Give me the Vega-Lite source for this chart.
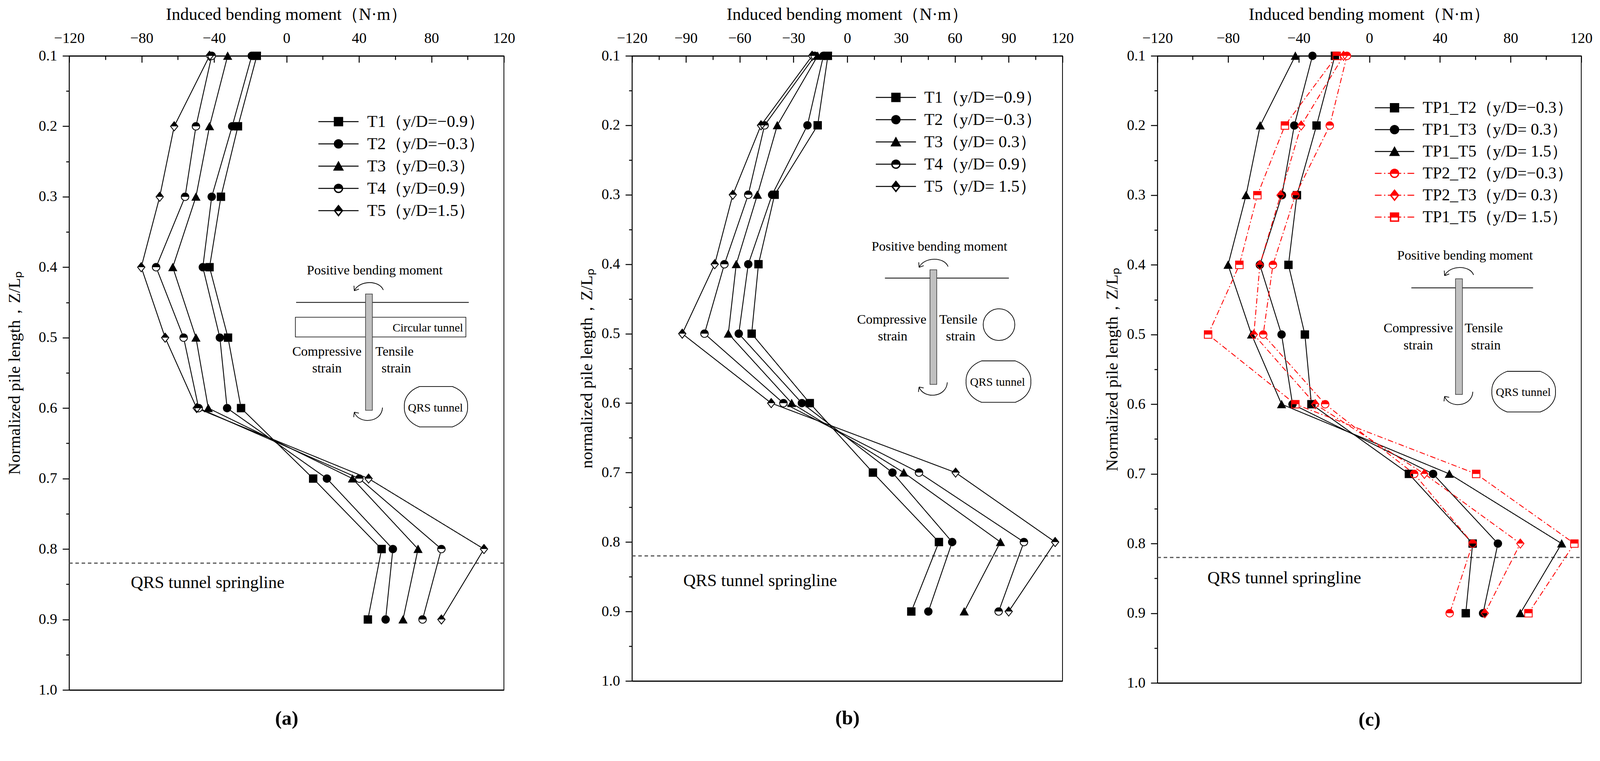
{
  "$schema": "https://vega.github.io/schema/vega-lite/v6.json",
  "background": "white",
  "padding": {"left": 15, "top": 14, "right": 0, "bottom": 0},
  "config": {
    "view": {"stroke": "black", "strokeWidth": 2},
    "axis": {"grid": false, "domainColor": "black", "tickColor": "black", "labelColor": "black", "titleColor": "black", "labelFont": "Liberation Serif", "titleFont": "Liberation Serif", "titleFontWeight": "normal", "labelFontSize": 38, "tickWidth": 2.5, "labelFlush": false, "labelOverlap": false},
    "legend": {"labelFont": "Liberation Serif", "labelColor": "black", "labelLimit": 1000},
    "text": {"font": "Liberation Serif", "color": "black"}
  },
  "datasets": {
    "a": [
      {"series": "T1", "z": 0.1, "m": -16.4}, {"series": "T1", "z": 0.2, "m": -26.8}, {"series": "T1", "z": 0.3, "m": -36.2}, {"series": "T1", "z": 0.4, "m": -42.5}, {"series": "T1", "z": 0.5, "m": -32.3}, {"series": "T1", "z": 0.6, "m": -25.1}, {"series": "T1", "z": 0.7, "m": 14.7}, {"series": "T1", "z": 0.8, "m": 52.5}, {"series": "T1", "z": 0.9, "m": 44.9},
      {"series": "T2", "z": 0.1, "m": -19.2}, {"series": "T2", "z": 0.2, "m": -30.0}, {"series": "T2", "z": 0.3, "m": -41.3}, {"series": "T2", "z": 0.4, "m": -46.2}, {"series": "T2", "z": 0.5, "m": -36.8}, {"series": "T2", "z": 0.6, "m": -32.8}, {"series": "T2", "z": 0.7, "m": 22.3}, {"series": "T2", "z": 0.8, "m": 58.7}, {"series": "T2", "z": 0.9, "m": 54.7},
      {"series": "T3", "z": 0.1, "m": -32.5}, {"series": "T3", "z": 0.2, "m": -42.5}, {"series": "T3", "z": 0.3, "m": -50.0}, {"series": "T3", "z": 0.4, "m": -62.8}, {"series": "T3", "z": 0.5, "m": -50.0}, {"series": "T3", "z": 0.6, "m": -43.2}, {"series": "T3", "z": 0.7, "m": 36.4}, {"series": "T3", "z": 0.8, "m": 72.6}, {"series": "T3", "z": 0.9, "m": 64.3},
      {"series": "T4", "z": 0.1, "m": -41.3}, {"series": "T4", "z": 0.2, "m": -50.0}, {"series": "T4", "z": 0.3, "m": -56.0}, {"series": "T4", "z": 0.4, "m": -72.0}, {"series": "T4", "z": 0.5, "m": -56.8}, {"series": "T4", "z": 0.6, "m": -48.5}, {"series": "T4", "z": 0.7, "m": 40.2}, {"series": "T4", "z": 0.8, "m": 85.5}, {"series": "T4", "z": 0.9, "m": 75.1},
      {"series": "T5", "z": 0.1, "m": -42.5}, {"series": "T5", "z": 0.2, "m": -62.0}, {"series": "T5", "z": 0.3, "m": -70.0}, {"series": "T5", "z": 0.4, "m": -80.2}, {"series": "T5", "z": 0.5, "m": -67.0}, {"series": "T5", "z": 0.6, "m": -49.6}, {"series": "T5", "z": 0.7, "m": 45.3}, {"series": "T5", "z": 0.8, "m": 109.0}, {"series": "T5", "z": 0.9, "m": 85.5}
    ],
    "b": [
      {"series": "T1", "z": 0.1, "m": -10.8}, {"series": "T1", "z": 0.2, "m": -16.5}, {"series": "T1", "z": 0.3, "m": -40.5}, {"series": "T1", "z": 0.4, "m": -49.5}, {"series": "T1", "z": 0.5, "m": -53.3}, {"series": "T1", "z": 0.6, "m": -20.9}, {"series": "T1", "z": 0.7, "m": 14.3}, {"series": "T1", "z": 0.8, "m": 51.1}, {"series": "T1", "z": 0.9, "m": 35.7},
      {"series": "T2", "z": 0.1, "m": -13.3}, {"series": "T2", "z": 0.2, "m": -22.2}, {"series": "T2", "z": 0.3, "m": -41.9}, {"series": "T2", "z": 0.4, "m": -55.2}, {"series": "T2", "z": 0.5, "m": -60.5}, {"series": "T2", "z": 0.6, "m": -25.3}, {"series": "T2", "z": 0.7, "m": 25.2}, {"series": "T2", "z": 0.8, "m": 58.5}, {"series": "T2", "z": 0.9, "m": 45.2},
      {"series": "T3", "z": 0.1, "m": -16.5}, {"series": "T3", "z": 0.2, "m": -39.0}, {"series": "T3", "z": 0.3, "m": -50.1}, {"series": "T3", "z": 0.4, "m": -61.9}, {"series": "T3", "z": 0.5, "m": -66.3}, {"series": "T3", "z": 0.6, "m": -31.0}, {"series": "T3", "z": 0.7, "m": 31.5}, {"series": "T3", "z": 0.8, "m": 85.4}, {"series": "T3", "z": 0.9, "m": 65.2},
      {"series": "T4", "z": 0.1, "m": -18.1}, {"series": "T4", "z": 0.2, "m": -46.1}, {"series": "T4", "z": 0.3, "m": -55.2}, {"series": "T4", "z": 0.4, "m": -68.5}, {"series": "T4", "z": 0.5, "m": -79.6}, {"series": "T4", "z": 0.6, "m": -35.6}, {"series": "T4", "z": 0.7, "m": 40.0}, {"series": "T4", "z": 0.8, "m": 98.5}, {"series": "T4", "z": 0.9, "m": 84.4},
      {"series": "T5", "z": 0.1, "m": -19.6}, {"series": "T5", "z": 0.2, "m": -48.1}, {"series": "T5", "z": 0.3, "m": -63.8}, {"series": "T5", "z": 0.4, "m": -73.9}, {"series": "T5", "z": 0.5, "m": -92.0}, {"series": "T5", "z": 0.6, "m": -42.4}, {"series": "T5", "z": 0.7, "m": 60.4}, {"series": "T5", "z": 0.8, "m": 115.9}, {"series": "T5", "z": 0.9, "m": 90.0}
    ],
    "c": [
      {"series": "TP1_T2", "z": 0.1, "m": -19.5}, {"series": "TP1_T2", "z": 0.2, "m": -29.9}, {"series": "TP1_T2", "z": 0.3, "m": -41.0}, {"series": "TP1_T2", "z": 0.4, "m": -45.8}, {"series": "TP1_T2", "z": 0.5, "m": -36.5}, {"series": "TP1_T2", "z": 0.6, "m": -32.8}, {"series": "TP1_T2", "z": 0.7, "m": 22.4}, {"series": "TP1_T2", "z": 0.8, "m": 58.5}, {"series": "TP1_T2", "z": 0.9, "m": 54.6},
      {"series": "TP1_T3", "z": 0.1, "m": -32.2}, {"series": "TP1_T3", "z": 0.2, "m": -42.5}, {"series": "TP1_T3", "z": 0.3, "m": -49.5}, {"series": "TP1_T3", "z": 0.4, "m": -62.0}, {"series": "TP1_T3", "z": 0.5, "m": -49.7}, {"series": "TP1_T3", "z": 0.6, "m": -43.5}, {"series": "TP1_T3", "z": 0.7, "m": 36.1}, {"series": "TP1_T3", "z": 0.8, "m": 72.8}, {"series": "TP1_T3", "z": 0.9, "m": 64.4},
      {"series": "TP1_T5", "z": 0.1, "m": -41.9}, {"series": "TP1_T5", "z": 0.2, "m": -61.8}, {"series": "TP1_T5", "z": 0.3, "m": -69.8}, {"series": "TP1_T5", "z": 0.4, "m": -80.0}, {"series": "TP1_T5", "z": 0.5, "m": -66.7}, {"series": "TP1_T5", "z": 0.6, "m": -49.7}, {"series": "TP1_T5", "z": 0.7, "m": 45.3}, {"series": "TP1_T5", "z": 0.8, "m": 108.9}, {"series": "TP1_T5", "z": 0.9, "m": 85.5},
      {"series": "TP2_T2", "z": 0.1, "m": -12.7}, {"series": "TP2_T2", "z": 0.2, "m": -22.4}, {"series": "TP2_T2", "z": 0.3, "m": -41.9}, {"series": "TP2_T2", "z": 0.4, "m": -54.6}, {"series": "TP2_T2", "z": 0.5, "m": -60.1}, {"series": "TP2_T2", "z": 0.6, "m": -25.0}, {"series": "TP2_T2", "z": 0.7, "m": 25.4}, {"series": "TP2_T2", "z": 0.8, "m": 58.5}, {"series": "TP2_T2", "z": 0.9, "m": 45.5},
      {"series": "TP2_T3", "z": 0.1, "m": -14.6}, {"series": "TP2_T3", "z": 0.2, "m": -38.6}, {"series": "TP2_T3", "z": 0.3, "m": -50.3}, {"series": "TP2_T3", "z": 0.4, "m": -62.0}, {"series": "TP2_T3", "z": 0.5, "m": -65.4}, {"series": "TP2_T3", "z": 0.6, "m": -30.6}, {"series": "TP2_T3", "z": 0.7, "m": 31.2}, {"series": "TP2_T3", "z": 0.8, "m": 85.5}, {"series": "TP2_T3", "z": 0.9, "m": 65.4},
      {"series": "TP2_T5", "z": 0.1, "m": -18.5}, {"series": "TP2_T5", "z": 0.2, "m": -47.8}, {"series": "TP2_T5", "z": 0.3, "m": -63.4}, {"series": "TP2_T5", "z": 0.4, "m": -73.6}, {"series": "TP2_T5", "z": 0.5, "m": -91.3}, {"series": "TP2_T5", "z": 0.6, "m": -41.9}, {"series": "TP2_T5", "z": 0.7, "m": 60.5}, {"series": "TP2_T5", "z": 0.8, "m": 116.1}, {"series": "TP2_T5", "z": 0.9, "m": 90.1}
    ],
    "annoA": [
      {"kind": "springline", "m": -120, "m2": 120, "z": 0.82},
      {"kind": "spring", "m": -86, "z": 0.848, "label": "QRS tunnel springline"},
      {"kind": "note", "m": 48.7, "z": 0.405, "label": "Positive bending moment"},
      {"kind": "note", "m": 22.3, "z": 0.52, "label": "Compressive"},
      {"kind": "note", "m": 22.3, "z": 0.544, "label": "strain"},
      {"kind": "note", "m": 59.6, "z": 0.52, "label": "Tensile"},
      {"kind": "note", "m": 60.6, "z": 0.544, "label": "strain"},
      {"kind": "small", "m": 82.2, "z": 0.6, "label": "QRS tunnel"},
      {"kind": "smallr", "m": 97.5, "z": 0.486, "label": "Circular tunnel"},
      {"kind": "box", "m": 4.9, "m2": 99, "z": 0.471, "z2": 0.499},
      {"kind": "ground", "m": 5.3, "m2": 100.6, "z": 0.45},
      {"kind": "pile", "m": 43.6, "m2": 47.4, "z": 0.438, "z2": 0.603},
      {"kind": "arrowtop", "m": 44.9, "z": 0.428},
      {"kind": "arrowbottom", "m": 44.9, "z": 0.608},
      {"kind": "tunnel", "m": 82.5, "z": 0.598}
    ],
    "annoB": [
      {"kind": "springline", "m": -120, "m2": 120, "z": 0.82},
      {"kind": "spring", "m": -91.4, "z": 0.856, "label": "QRS tunnel springline"},
      {"kind": "note", "m": 51.4, "z": 0.375, "label": "Positive bending moment"},
      {"kind": "note", "m": 24.8, "z": 0.48, "label": "Compressive"},
      {"kind": "note", "m": 25.3, "z": 0.504, "label": "strain"},
      {"kind": "note", "m": 61.9, "z": 0.48, "label": "Tensile"},
      {"kind": "note", "m": 63.2, "z": 0.504, "label": "strain"},
      {"kind": "small", "m": 83.8, "z": 0.57, "label": "QRS tunnel"},
      {"kind": "ground", "m": 21, "m2": 90.1, "z": 0.42},
      {"kind": "pile", "m": 46.1, "m2": 49.9, "z": 0.408, "z2": 0.573},
      {"kind": "arrowtop", "m": 47.6, "z": 0.399},
      {"kind": "arrowbottom", "m": 47.6, "z": 0.579},
      {"kind": "tunnel", "m": 84.3, "z": 0.569},
      {"kind": "circle", "m": 84.6, "z": 0.487}
    ],
    "annoC": [
      {"kind": "springline", "m": -120, "m2": 120, "z": 0.82},
      {"kind": "spring", "m": -91.7, "z": 0.85, "label": "QRS tunnel springline"},
      {"kind": "note", "m": 54.2, "z": 0.387, "label": "Positive bending moment"},
      {"kind": "note", "m": 27.7, "z": 0.491, "label": "Compressive"},
      {"kind": "note", "m": 27.7, "z": 0.516, "label": "strain"},
      {"kind": "note", "m": 64.8, "z": 0.491, "label": "Tensile"},
      {"kind": "note", "m": 66, "z": 0.516, "label": "strain"},
      {"kind": "small", "m": 87.2, "z": 0.583, "label": "QRS tunnel"},
      {"kind": "ground", "m": 23.8, "m2": 92.7, "z": 0.433},
      {"kind": "pile", "m": 48.8, "m2": 52.7, "z": 0.42, "z2": 0.586},
      {"kind": "arrowtop", "m": 50.3, "z": 0.41},
      {"kind": "arrowbottom", "m": 50.3, "z": 0.591},
      {"kind": "tunnel", "m": 87.4, "z": 0.582}
    ]
  },
  "bounds": "flush",
  "spacing": 328,
  "hconcat": [
    {
      "width": 1113,
      "height": 1624,
      "data": {"name": "a"},
      "encoding": {
        "x": {"field": "m", "type": "quantitative", "scale": {"domain": [-120, 120], "nice": false, "zero": false}, "axis": null},
        "y": {"field": "z", "type": "quantitative", "scale": {"domain": [0.1, 1], "reverse": true, "nice": false, "zero": false},
          "axis": {"orient": "left", "values": [0.1, 0.15, 0.2, 0.25, 0.3, 0.35, 0.4, 0.45, 0.5, 0.55, 0.6, 0.65, 0.7, 0.75, 0.8, 0.85, 0.9, 0.95, 1.0], "format": ".1f", "labelExpr": "round(datum.value * 100) % 10 === 0 ? datum.label : ''", "tickSize": {"condition": {"test": "round(datum.value * 100) % 10 === 0", "value": 17}, "value": 8}, "domainWidth": 2, "labelPadding": 14, "title": "Normalized pile length，Z/Lₚ", "titleFontSize": 43, "titlePadding": 39}}
      },
      "resolve": {"scale": {"shape": "independent", "fill": "independent", "stroke": "independent", "size": "independent", "strokeDash": "independent"}, "axis": {"x": "independent"}},
      "layer": [
        {
          "data": {"name": "annoA"},
          "transform": [{"filter": "datum.kind === 'springline'"}],
          "mark": {"type": "rule", "color": "#555555", "strokeWidth": 3, "strokeDash": [9, 7]},
          "encoding": {"x2": {"field": "m2"}}
        },
        {
          "mark": {"type": "line", "strokeWidth": 2.2},
          "encoding": {
            "x": {"field": "m", "type": "quantitative", "scale": {"domain": [-120, 120], "nice": false, "zero": false},
              "axis": {"orient": "top", "values": [-120, -100, -80, -60, -40, -20, 0, 20, 40, 60, 80, 100, 120], "labelExpr": "datum.value % 40 === 0 ? datum.label : ''", "tickSize": {"condition": {"test": "datum.value % 40 === 0", "value": -17}, "value": -10}, "domainWidth": 3, "labelPadding": 43, "title": "Induced bending moment（N·m）", "titleFontSize": 44, "titlePadding": 13}},
            "stroke": {"field": "series", "type": "nominal", "scale": {"domain": ["T1", "T2", "T3", "T4", "T5"], "range": ["black", "black", "black", "black", "black"]}, "legend": null},
            "strokeDash": {"field": "series", "type": "nominal", "scale": {"domain": ["T1", "T2", "T3", "T4", "T5"], "range": [[1, 0], [1, 0], [1, 0], [1, 0], [1, 0]]}, "legend": null},
            "order": {"field": "z", "type": "quantitative"}
          }
        },
        {
          "mark": {"type": "point", "filled": true, "fill": "white", "size": 459, "strokeWidth": 0, "opacity": 1},
          "encoding": {
            "shape": {"field": "series", "type": "nominal", "scale": {"domain": ["T1", "T2", "T3", "T4", "T5"], "range": ["M -1 -1 L 1 -1 L 1 1 L -1 1 Z", "circle", "M 0 -1.05 L 1.1 0.95 L -1.1 0.95 Z", "circle", "M 0 -1.25 L 1 0 L 0 1.25 L -1 0 Z"]}, "legend": null}
          }
        },
        {
          "mark": {"type": "point", "filled": true, "size": 459, "strokeWidth": 0, "opacity": 1},
          "encoding": {
            "x": {"field": "m", "type": "quantitative", "scale": {"domain": [-120, 120], "nice": false, "zero": false},
              "axis": {"orient": "bottom", "labels": false, "ticks": false, "domainWidth": 3, "title": "(a)", "titleFontSize": 51, "titleFontWeight": "bold", "titlePadding": 48}},
            "shape": {"field": "series", "type": "nominal", "scale": {"domain": ["T1", "T2", "T3", "T4", "T5"], "range": ["M -1 -1 L 1 -1 L 1 1 L -1 1 Z", "circle", "M 0 -1.05 L 1.1 0.95 L -1.1 0.95 Z", "M -1 0 A 1 1 0 0 1 1 0 Z M 1 0 A 1 1 0 0 1 -1 0 L -0.8 0 A 0.8 0.8 0 0 0 0.8 0 Z", "M -1 0 L 0 -1.25 L 1 0 Z M 1 0 L 0 1.25 L -1 0 L -0.75 0 L 0 0.94 L 0.75 0 Z"]}, "legend": null},
            "fill": {"field": "series", "type": "nominal", "scale": {"domain": ["T1", "T2", "T3", "T4", "T5"], "range": ["black", "black", "black", "black", "black"]}, "legend": null}
          }
        },
        {
          "transform": [{"filter": "datum.z === 0.1"}],
          "mark": {"type": "point", "filled": true, "size": 459, "strokeWidth": 2.5, "opacity": 0},
          "encoding": {
            "shape": {"field": "series", "type": "nominal", "scale": {"domain": ["T1", "T2", "T3", "T4", "T5"], "range": [
              "M -4.8 0 L 4.8 0 M -1 -1 L 1 -1 L 1 1 L -1 1 Z",
              "M -4.8 0 L 4.8 0 M 1 0 A 1 1 0 0 1 -1 0 A 1 1 0 0 1 1 0 Z",
              "M -4.8 0 L 4.8 0 M 0 -1.05 L 1.1 0.95 L -1.1 0.95 Z",
              "M -4.8 0 L 4.8 0 M -1 0 A 1 1 0 0 1 1 0 Z M 1 0 A 1 1 0 0 1 -1 0 L -0.92 0 A 0.92 0.92 0 0 0 0.92 0 Z",
              "M -4.8 0 L 4.8 0 M -1 0 L 0 -1.25 L 1 0 Z M 1 0 L 0 1.25 L -1 0 L -0.88 0 L 0 1.1 L 0.88 0 Z"]},
              "legend": {"orient": "none", "legendX": 668, "legendY": 147, "direction": "vertical", "title": null, "labelFontSize": 43, "labelOffset": 52, "symbolSize": 459, "symbolStrokeWidth": 2.5, "symbolOpacity": 1, "rowPadding": 13, "padding": 0, "labelExpr": "{'T1': 'T1（y/D=−0.9）', 'T2': 'T2（y/D=−0.3）', 'T3': 'T3（y/D=0.3）', 'T4': 'T4（y/D=0.9）', 'T5': 'T5（y/D=1.5）'}[datum.label]"}},
            "fill": {"field": "series", "type": "nominal", "scale": {"domain": ["T1", "T2", "T3", "T4", "T5"], "range": ["black", "black", "black", "black", "black"]},
              "legend": {"orient": "none", "legendX": 668, "legendY": 147, "direction": "vertical", "title": null, "labelFontSize": 43, "labelOffset": 52, "symbolSize": 459, "symbolStrokeWidth": 2.5, "symbolOpacity": 1, "rowPadding": 13, "padding": 0, "labelExpr": "{'T1': 'T1（y/D=−0.9）', 'T2': 'T2（y/D=−0.3）', 'T3': 'T3（y/D=0.3）', 'T4': 'T4（y/D=0.9）', 'T5': 'T5（y/D=1.5）'}[datum.label]"}},
            "stroke": {"field": "series", "type": "nominal", "scale": {"domain": ["T1", "T2", "T3", "T4", "T5"], "range": ["black", "black", "black", "black", "black"]},
              "legend": {"orient": "none", "legendX": 668, "legendY": 147, "direction": "vertical", "title": null, "labelFontSize": 43, "labelOffset": 52, "symbolSize": 459, "symbolStrokeWidth": 2.5, "symbolOpacity": 1, "rowPadding": 13, "padding": 0, "labelExpr": "{'T1': 'T1（y/D=−0.9）', 'T2': 'T2（y/D=−0.3）', 'T3': 'T3（y/D=0.3）', 'T4': 'T4（y/D=0.9）', 'T5': 'T5（y/D=1.5）'}[datum.label]"}}
          }
        },
        {
          "data": {"name": "annoA"},
          "transform": [{"filter": "datum.kind === 'box'"}],
          "mark": {"type": "rect", "fill": "transparent", "stroke": "black", "strokeWidth": 1.5},
          "encoding": {"x2": {"field": "m2"}, "y2": {"field": "z2"}}
        },
        {
          "data": {"name": "annoA"},
          "transform": [{"filter": "datum.kind === 'ground'"}],
          "mark": {"type": "rule", "color": "black", "strokeWidth": 2},
          "encoding": {"x2": {"field": "m2"}}
        },
        {
          "data": {"name": "annoA"},
          "transform": [{"filter": "datum.kind === 'pile'"}],
          "mark": {"type": "rect", "fill": "#c0c0c0", "stroke": "#333333", "strokeWidth": 1.5},
          "encoding": {"x2": {"field": "m2"}, "y2": {"field": "z2"}}
        },
        {
          "data": {"name": "annoA"},
          "transform": [{"filter": {"field": "kind", "oneOf": ["arrowtop", "arrowbottom", "tunnel", "circle"]}}],
          "mark": {"type": "point", "filled": false, "color": "black", "strokeWidth": 1.8, "opacity": 1},
          "encoding": {
            "shape": {"field": "kind", "type": "nominal", "scale": {"domain": ["arrowtop", "arrowbottom", "tunnel", "circle"], "range": [
              "M 1 0.2 C 0.75 -0.45 -0.55 -0.45 -0.88 0.25 M -0.88 0.25 L -0.9 -0.08 M -0.88 0.25 L -0.58 0.14",
              "M 0.95 -0.4 C 0.9 0.6 -0.6 0.7 -0.88 -0.1 M -0.88 -0.1 L -0.58 -0.04 M -0.88 -0.1 L -0.92 0.22",
              "M -0.52 -0.64 L 0.52 -0.64 C 0.85 -0.52 1.02 -0.26 1 0 C 1.02 0.26 0.85 0.52 0.52 0.64 L -0.52 0.64 C -0.85 0.52 -1.02 0.26 -1 0 C -1.02 -0.26 -0.85 -0.52 -0.52 -0.64 Z",
              "circle"]}, "legend": null},
            "size": {"field": "kind", "type": "nominal", "scale": {"type": "ordinal", "domain": ["arrowtop", "arrowbottom", "tunnel", "circle"], "range": [6233, 6233, 26178, 6545]}, "legend": null}
          }
        },
        {
          "data": {"name": "annoA"},
          "transform": [{"filter": "datum.kind === 'note'"}],
          "mark": {"type": "text", "fontSize": 34, "align": "center", "baseline": "middle"},
          "encoding": {"text": {"field": "label"}}
        },
        {
          "data": {"name": "annoA"},
          "transform": [{"filter": "datum.kind === 'small'"}],
          "mark": {"type": "text", "fontSize": 30, "align": "center", "baseline": "middle"},
          "encoding": {"text": {"field": "label"}}
        },
        {
          "data": {"name": "annoA"},
          "transform": [{"filter": "datum.kind === 'smallr'"}],
          "mark": {"type": "text", "fontSize": 30, "align": "right", "baseline": "middle"},
          "encoding": {"text": {"field": "label"}}
        },
        {
          "data": {"name": "annoA"},
          "transform": [{"filter": "datum.kind === 'spring'"}],
          "mark": {"type": "text", "fontSize": 44, "align": "left", "baseline": "middle"},
          "encoding": {"text": {"field": "label"}}
        }
      ]
    },
    {
      "bounds": "flush",
      "spacing": 243,
      "hconcat": [
        {
          "width": 1102,
          "height": 1601,
          "data": {"name": "b"},
          "encoding": {
            "x": {"field": "m", "type": "quantitative", "scale": {"domain": [-120, 120], "nice": false, "zero": false}, "axis": null},
            "y": {"field": "z", "type": "quantitative", "scale": {"domain": [0.1, 1], "reverse": true, "nice": false, "zero": false},
              "axis": {"orient": "left", "values": [0.1, 0.15, 0.2, 0.25, 0.3, 0.35, 0.4, 0.45, 0.5, 0.55, 0.6, 0.65, 0.7, 0.75, 0.8, 0.85, 0.9, 0.95, 1.0], "format": ".1f", "labelExpr": "round(datum.value * 100) % 10 === 0 ? datum.label : ''", "tickSize": {"condition": {"test": "round(datum.value * 100) % 10 === 0", "value": 17}, "value": 8}, "domainWidth": 2, "labelPadding": 14, "title": "normalized pile length，Z/Lₚ", "titleFontSize": 43, "titlePadding": 15}}
          },
          "resolve": {"scale": {"shape": "independent", "fill": "independent", "stroke": "independent", "size": "independent", "strokeDash": "independent"}, "axis": {"x": "independent"}},
          "layer": [
            {
              "data": {"name": "annoB"},
              "transform": [{"filter": "datum.kind === 'springline'"}],
              "mark": {"type": "rule", "color": "#555555", "strokeWidth": 3, "strokeDash": [9, 7]},
              "encoding": {"x2": {"field": "m2"}}
            },
            {
              "mark": {"type": "line", "strokeWidth": 2.2},
              "encoding": {
                "x": {"field": "m", "type": "quantitative", "scale": {"domain": [-120, 120], "nice": false, "zero": false},
                  "axis": {"orient": "top", "values": [-120, -105, -90, -75, -60, -45, -30, -15, 0, 15, 30, 45, 60, 75, 90, 105, 120], "labelExpr": "datum.value % 30 === 0 ? datum.label : ''", "tickSize": {"condition": {"test": "datum.value % 30 === 0", "value": -17}, "value": -10}, "domainWidth": 3, "labelPadding": 43, "title": "Induced bending moment（N·m）", "titleFontSize": 44, "titlePadding": 13}},
                "stroke": {"field": "series", "type": "nominal", "scale": {"domain": ["T1", "T2", "T3", "T4", "T5"], "range": ["black", "black", "black", "black", "black"]}, "legend": null},
                "strokeDash": {"field": "series", "type": "nominal", "scale": {"domain": ["T1", "T2", "T3", "T4", "T5"], "range": [[1, 0], [1, 0], [1, 0], [1, 0], [1, 0]]}, "legend": null},
                "order": {"field": "z", "type": "quantitative"}
              }
            },
            {
              "mark": {"type": "point", "filled": true, "fill": "white", "size": 459, "strokeWidth": 0, "opacity": 1},
              "encoding": {
                "shape": {"field": "series", "type": "nominal", "scale": {"domain": ["T1", "T2", "T3", "T4", "T5"], "range": ["M -1 -1 L 1 -1 L 1 1 L -1 1 Z", "circle", "M 0 -1.05 L 1.1 0.95 L -1.1 0.95 Z", "circle", "M 0 -1.25 L 1 0 L 0 1.25 L -1 0 Z"]}, "legend": null}
              }
            },
            {
              "mark": {"type": "point", "filled": true, "size": 459, "strokeWidth": 0, "opacity": 1},
              "encoding": {
                "x": {"field": "m", "type": "quantitative", "scale": {"domain": [-120, 120], "nice": false, "zero": false},
                  "axis": {"orient": "bottom", "labels": false, "ticks": false, "domainWidth": 3, "title": "(b)", "titleFontSize": 51, "titleFontWeight": "bold", "titlePadding": 70}},
                "shape": {"field": "series", "type": "nominal", "scale": {"domain": ["T1", "T2", "T3", "T4", "T5"], "range": ["M -1 -1 L 1 -1 L 1 1 L -1 1 Z", "circle", "M 0 -1.05 L 1.1 0.95 L -1.1 0.95 Z", "M -1 0 A 1 1 0 0 1 1 0 Z M 1 0 A 1 1 0 0 1 -1 0 L -0.8 0 A 0.8 0.8 0 0 0 0.8 0 Z", "M -1 0 L 0 -1.25 L 1 0 Z M 1 0 L 0 1.25 L -1 0 L -0.75 0 L 0 0.94 L 0.75 0 Z"]}, "legend": null},
                "fill": {"field": "series", "type": "nominal", "scale": {"domain": ["T1", "T2", "T3", "T4", "T5"], "range": ["black", "black", "black", "black", "black"]}, "legend": null}
              }
            },
            {
              "transform": [{"filter": "datum.z === 0.1"}],
              "mark": {"type": "point", "filled": true, "size": 459, "strokeWidth": 2.5, "opacity": 0},
              "encoding": {
                "shape": {"field": "series", "type": "nominal", "scale": {"domain": ["T1", "T2", "T3", "T4", "T5"], "range": [
                  "M -4.8 0 L 4.8 0 M -1 -1 L 1 -1 L 1 1 L -1 1 Z",
                  "M -4.8 0 L 4.8 0 M 1 0 A 1 1 0 0 1 -1 0 A 1 1 0 0 1 1 0 Z",
                  "M -4.8 0 L 4.8 0 M 0 -1.05 L 1.1 0.95 L -1.1 0.95 Z",
                  "M -4.8 0 L 4.8 0 M -1 0 A 1 1 0 0 1 1 0 Z M 1 0 A 1 1 0 0 1 -1 0 L -0.92 0 A 0.92 0.92 0 0 0 0.92 0 Z",
                  "M -4.8 0 L 4.8 0 M -1 0 L 0 -1.25 L 1 0 Z M 1 0 L 0 1.25 L -1 0 L -0.88 0 L 0 1.1 L 0.88 0 Z"]},
                  "legend": {"orient": "none", "legendX": 654, "legendY": 85, "direction": "vertical", "title": null, "labelFontSize": 43, "labelOffset": 51, "symbolSize": 459, "symbolStrokeWidth": 2.5, "symbolOpacity": 1, "rowPadding": 13, "padding": 0, "labelExpr": "{'T1': 'T1（y/D=−0.9）', 'T2': 'T2（y/D=−0.3）', 'T3': 'T3（y/D= 0.3）', 'T4': 'T4（y/D= 0.9）', 'T5': 'T5（y/D= 1.5）'}[datum.label]"}},
                "fill": {"field": "series", "type": "nominal", "scale": {"domain": ["T1", "T2", "T3", "T4", "T5"], "range": ["black", "black", "black", "black", "black"]},
                  "legend": {"orient": "none", "legendX": 654, "legendY": 85, "direction": "vertical", "title": null, "labelFontSize": 43, "labelOffset": 51, "symbolSize": 459, "symbolStrokeWidth": 2.5, "symbolOpacity": 1, "rowPadding": 13, "padding": 0, "labelExpr": "{'T1': 'T1（y/D=−0.9）', 'T2': 'T2（y/D=−0.3）', 'T3': 'T3（y/D= 0.3）', 'T4': 'T4（y/D= 0.9）', 'T5': 'T5（y/D= 1.5）'}[datum.label]"}},
                "stroke": {"field": "series", "type": "nominal", "scale": {"domain": ["T1", "T2", "T3", "T4", "T5"], "range": ["black", "black", "black", "black", "black"]},
                  "legend": {"orient": "none", "legendX": 654, "legendY": 85, "direction": "vertical", "title": null, "labelFontSize": 43, "labelOffset": 51, "symbolSize": 459, "symbolStrokeWidth": 2.5, "symbolOpacity": 1, "rowPadding": 13, "padding": 0, "labelExpr": "{'T1': 'T1（y/D=−0.9）', 'T2': 'T2（y/D=−0.3）', 'T3': 'T3（y/D= 0.3）', 'T4': 'T4（y/D= 0.9）', 'T5': 'T5（y/D= 1.5）'}[datum.label]"}}
              }
            },
            {
              "data": {"name": "annoB"},
              "transform": [{"filter": "datum.kind === 'ground'"}],
              "mark": {"type": "rule", "color": "black", "strokeWidth": 2},
              "encoding": {"x2": {"field": "m2"}}
            },
            {
              "data": {"name": "annoB"},
              "transform": [{"filter": "datum.kind === 'pile'"}],
              "mark": {"type": "rect", "fill": "#c0c0c0", "stroke": "#333333", "strokeWidth": 1.5},
              "encoding": {"x2": {"field": "m2"}, "y2": {"field": "z2"}}
            },
            {
              "data": {"name": "annoB"},
              "transform": [{"filter": {"field": "kind", "oneOf": ["arrowtop", "arrowbottom", "tunnel", "circle"]}}],
              "mark": {"type": "point", "filled": false, "color": "black", "strokeWidth": 1.8, "opacity": 1},
              "encoding": {
                "shape": {"field": "kind", "type": "nominal", "scale": {"domain": ["arrowtop", "arrowbottom", "tunnel", "circle"], "range": [
                  "M 1 0.2 C 0.75 -0.45 -0.55 -0.45 -0.88 0.25 M -0.88 0.25 L -0.9 -0.08 M -0.88 0.25 L -0.58 0.14",
                  "M 0.95 -0.4 C 0.9 0.6 -0.6 0.7 -0.88 -0.1 M -0.88 -0.1 L -0.58 -0.04 M -0.88 -0.1 L -0.92 0.22",
                  "M -0.52 -0.64 L 0.52 -0.64 C 0.85 -0.52 1.02 -0.26 1 0 C 1.02 0.26 0.85 0.52 0.52 0.64 L -0.52 0.64 C -0.85 0.52 -1.02 0.26 -1 0 C -1.02 -0.26 -0.85 -0.52 -0.52 -0.64 Z",
                  "circle"]}, "legend": null},
                "size": {"field": "kind", "type": "nominal", "scale": {"type": "ordinal", "domain": ["arrowtop", "arrowbottom", "tunnel", "circle"], "range": [6233, 6233, 27456, 6545]}, "legend": null}
              }
            },
            {
              "data": {"name": "annoB"},
              "transform": [{"filter": "datum.kind === 'note'"}],
              "mark": {"type": "text", "fontSize": 34, "align": "center", "baseline": "middle"},
              "encoding": {"text": {"field": "label"}}
            },
            {
              "data": {"name": "annoB"},
              "transform": [{"filter": "datum.kind === 'small'"}],
              "mark": {"type": "text", "fontSize": 30, "align": "center", "baseline": "middle"},
              "encoding": {"text": {"field": "label"}}
            },
            {
              "data": {"name": "annoB"},
              "transform": [{"filter": "datum.kind === 'spring'"}],
              "mark": {"type": "text", "fontSize": 44, "align": "left", "baseline": "middle"},
              "encoding": {"text": {"field": "label"}}
            }
          ]
        },
        {
          "width": 1085,
          "height": 1606,
          "data": {"name": "c"},
          "encoding": {
            "x": {"field": "m", "type": "quantitative", "scale": {"domain": [-120, 120], "nice": false, "zero": false}, "axis": null},
            "y": {"field": "z", "type": "quantitative", "scale": {"domain": [0.1, 1], "reverse": true, "nice": false, "zero": false},
              "axis": {"orient": "left", "values": [0.1, 0.15, 0.2, 0.25, 0.3, 0.35, 0.4, 0.45, 0.5, 0.55, 0.6, 0.65, 0.7, 0.75, 0.8, 0.85, 0.9, 0.95, 1.0], "format": ".1f", "labelExpr": "round(datum.value * 100) % 10 === 0 ? datum.label : ''", "tickSize": {"condition": {"test": "round(datum.value * 100) % 10 === 0", "value": 17}, "value": 8}, "domainWidth": 2, "labelPadding": 14, "title": "Normalized pile length，Z/Lₚ", "titleFontSize": 43, "titlePadding": 15}}
          },
          "resolve": {"scale": {"shape": "independent", "fill": "independent", "stroke": "independent", "size": "independent", "strokeDash": "independent"}, "axis": {"x": "independent"}},
          "layer": [
            {
              "data": {"name": "annoC"},
              "transform": [{"filter": "datum.kind === 'springline'"}],
              "mark": {"type": "rule", "color": "#555555", "strokeWidth": 3, "strokeDash": [9, 7]},
              "encoding": {"x2": {"field": "m2"}}
            },
            {
              "mark": {"type": "line", "strokeWidth": 2.2},
              "encoding": {
                "x": {"field": "m", "type": "quantitative", "scale": {"domain": [-120, 120], "nice": false, "zero": false},
                  "axis": {"orient": "top", "values": [-120, -100, -80, -60, -40, -20, 0, 20, 40, 60, 80, 100, 120], "labelExpr": "datum.value % 40 === 0 ? datum.label : ''", "tickSize": {"condition": {"test": "datum.value % 40 === 0", "value": -17}, "value": -10}, "domainWidth": 3, "labelPadding": 43, "title": "Induced bending moment（N·m）", "titleFontSize": 44, "titlePadding": 13}},
                "stroke": {"field": "series", "type": "nominal", "scale": {"domain": ["TP1_T2", "TP1_T3", "TP1_T5", "TP2_T2", "TP2_T3", "TP2_T5"], "range": ["black", "black", "black", "#ff0000", "#ff0000", "#ff0000"]}, "legend": null},
                "strokeDash": {"field": "series", "type": "nominal", "scale": {"domain": ["TP1_T2", "TP1_T3", "TP1_T5", "TP2_T2", "TP2_T3", "TP2_T5"], "range": [[1, 0], [1, 0], [1, 0], [14, 6, 3, 6], [14, 6, 3, 6], [14, 6, 3, 6]]}, "legend": null},
                "order": {"field": "z", "type": "quantitative"}
              }
            },
            {
              "mark": {"type": "point", "filled": true, "fill": "white", "size": 459, "strokeWidth": 0, "opacity": 1},
              "encoding": {
                "shape": {"field": "series", "type": "nominal", "scale": {"domain": ["TP1_T2", "TP1_T3", "TP1_T5", "TP2_T2", "TP2_T3", "TP2_T5"], "range": ["M -1 -1 L 1 -1 L 1 1 L -1 1 Z", "circle", "M 0 -1.05 L 1.1 0.95 L -1.1 0.95 Z", "circle", "M 0 -1.25 L 1 0 L 0 1.25 L -1 0 Z", "M -1 -1 L 1 -1 L 1 1 L -1 1 Z"]}, "legend": null}
              }
            },
            {
              "mark": {"type": "point", "filled": true, "size": 459, "strokeWidth": 0, "opacity": 1},
              "encoding": {
                "x": {"field": "m", "type": "quantitative", "scale": {"domain": [-120, 120], "nice": false, "zero": false},
                  "axis": {"orient": "bottom", "labels": false, "ticks": false, "domainWidth": 3, "title": "(c)", "titleFontSize": 51, "titleFontWeight": "bold", "titlePadding": 69}},
                "shape": {"field": "series", "type": "nominal", "scale": {"domain": ["TP1_T2", "TP1_T3", "TP1_T5", "TP2_T2", "TP2_T3", "TP2_T5"], "range": ["M -1 -1 L 1 -1 L 1 1 L -1 1 Z", "circle", "M 0 -1.05 L 1.1 0.95 L -1.1 0.95 Z", "M -1 0 A 1 1 0 0 1 1 0 Z M 1 0 A 1 1 0 0 1 -1 0 L -0.8 0 A 0.8 0.8 0 0 0 0.8 0 Z", "M -1 0 L 0 -1.25 L 1 0 Z M 1 0 L 0 1.25 L -1 0 L -0.75 0 L 0 0.94 L 0.75 0 Z", "M -1 -1 L 1 -1 L 1 0 L -1 0 Z M 1 0 L 1 1 L -1 1 L -1 0 L -0.8 0 L -0.8 0.8 L 0.8 0.8 L 0.8 0 Z"]}, "legend": null},
                "fill": {"field": "series", "type": "nominal", "scale": {"domain": ["TP1_T2", "TP1_T3", "TP1_T5", "TP2_T2", "TP2_T3", "TP2_T5"], "range": ["black", "black", "black", "#ff0000", "#ff0000", "#ff0000"]}, "legend": null}
              }
            },
            {
              "transform": [{"filter": "datum.z === 0.1"}],
              "mark": {"type": "point", "filled": true, "size": 459, "strokeWidth": 2.5, "opacity": 0},
              "encoding": {
                "shape": {"field": "series", "type": "nominal", "scale": {"domain": ["TP1_T2", "TP1_T3", "TP1_T5", "TP2_T2", "TP2_T3", "TP2_T5"], "range": [
                  "M -4.7 0 L 4.7 0 M -1 -1 L 1 -1 L 1 1 L -1 1 Z",
                  "M -4.7 0 L 4.7 0 M 1 0 A 1 1 0 0 1 -1 0 A 1 1 0 0 1 1 0 Z",
                  "M -4.7 0 L 4.7 0 M 0 -1.05 L 1.1 0.95 L -1.1 0.95 Z",
                  "M -4.7 0 L -3.1 0 M -2.5 0 L -2.2 0 M -1.6 0 L -1 0 M 1 0 L 1.6 0 M 2.2 0 L 2.5 0 M 3.1 0 L 4.7 0 M -1 0 A 1 1 0 0 1 1 0 Z M 1 0 A 1 1 0 0 1 -1 0 L -0.92 0 A 0.92 0.92 0 0 0 0.92 0 Z",
                  "M -4.7 0 L -3.1 0 M -2.5 0 L -2.2 0 M -1.6 0 L -1 0 M 1 0 L 1.6 0 M 2.2 0 L 2.5 0 M 3.1 0 L 4.7 0 M -1 0 L 0 -1.25 L 1 0 Z M 1 0 L 0 1.25 L -1 0 L -0.88 0 L 0 1.1 L 0.88 0 Z",
                  "M -4.7 0 L -3.1 0 M -2.5 0 L -2.2 0 M -1.6 0 L -1 0 M 1 0 L 1.6 0 M 2.2 0 L 2.5 0 M 3.1 0 L 4.7 0 M -1 -1 L 1 -1 L 1 0 L -1 0 Z M 1 0 L 1 1 L -1 1 L -1 0 L -0.9 0 L -0.9 0.9 L 0.9 0.9 L 0.9 0 Z"]},
                  "legend": {"orient": "none", "legendX": 586, "legendY": 112, "direction": "vertical", "title": null, "labelFontSize": 42, "labelOffset": 51, "symbolSize": 459, "symbolStrokeWidth": 2.5, "symbolOpacity": 1, "rowPadding": 14, "padding": 0, "labelExpr": "{'TP1_T2': 'TP1_T2（y/D=−0.3）', 'TP1_T3': 'TP1_T3（y/D= 0.3）', 'TP1_T5': 'TP1_T5（y/D= 1.5）', 'TP2_T2': 'TP2_T2（y/D=−0.3）', 'TP2_T3': 'TP2_T3（y/D= 0.3）', 'TP2_T5': 'TP1_T5（y/D= 1.5）'}[datum.label]"}},
                "fill": {"field": "series", "type": "nominal", "scale": {"domain": ["TP1_T2", "TP1_T3", "TP1_T5", "TP2_T2", "TP2_T3", "TP2_T5"], "range": ["black", "black", "black", "#ff0000", "#ff0000", "#ff0000"]},
                  "legend": {"orient": "none", "legendX": 586, "legendY": 112, "direction": "vertical", "title": null, "labelFontSize": 42, "labelOffset": 51, "symbolSize": 459, "symbolStrokeWidth": 2.5, "symbolOpacity": 1, "rowPadding": 14, "padding": 0, "labelExpr": "{'TP1_T2': 'TP1_T2（y/D=−0.3）', 'TP1_T3': 'TP1_T3（y/D= 0.3）', 'TP1_T5': 'TP1_T5（y/D= 1.5）', 'TP2_T2': 'TP2_T2（y/D=−0.3）', 'TP2_T3': 'TP2_T3（y/D= 0.3）', 'TP2_T5': 'TP1_T5（y/D= 1.5）'}[datum.label]"}},
                "stroke": {"field": "series", "type": "nominal", "scale": {"domain": ["TP1_T2", "TP1_T3", "TP1_T5", "TP2_T2", "TP2_T3", "TP2_T5"], "range": ["black", "black", "black", "#ff0000", "#ff0000", "#ff0000"]},
                  "legend": {"orient": "none", "legendX": 586, "legendY": 112, "direction": "vertical", "title": null, "labelFontSize": 42, "labelOffset": 51, "symbolSize": 459, "symbolStrokeWidth": 2.5, "symbolOpacity": 1, "rowPadding": 14, "padding": 0, "labelExpr": "{'TP1_T2': 'TP1_T2（y/D=−0.3）', 'TP1_T3': 'TP1_T3（y/D= 0.3）', 'TP1_T5': 'TP1_T5（y/D= 1.5）', 'TP2_T2': 'TP2_T2（y/D=−0.3）', 'TP2_T3': 'TP2_T3（y/D= 0.3）', 'TP2_T5': 'TP1_T5（y/D= 1.5）'}[datum.label]"}}
              }
            },
            {
              "data": {"name": "annoC"},
              "transform": [{"filter": "datum.kind === 'ground'"}],
              "mark": {"type": "rule", "color": "black", "strokeWidth": 2},
              "encoding": {"x2": {"field": "m2"}}
            },
            {
              "data": {"name": "annoC"},
              "transform": [{"filter": "datum.kind === 'pile'"}],
              "mark": {"type": "rect", "fill": "#c0c0c0", "stroke": "#333333", "strokeWidth": 1.5},
              "encoding": {"x2": {"field": "m2"}, "y2": {"field": "z2"}}
            },
            {
              "data": {"name": "annoC"},
              "transform": [{"filter": {"field": "kind", "oneOf": ["arrowtop", "arrowbottom", "tunnel", "circle"]}}],
              "mark": {"type": "point", "filled": false, "color": "black", "strokeWidth": 1.8, "opacity": 1},
              "encoding": {
                "shape": {"field": "kind", "type": "nominal", "scale": {"domain": ["arrowtop", "arrowbottom", "tunnel", "circle"], "range": [
                  "M 1 0.2 C 0.75 -0.45 -0.55 -0.45 -0.88 0.25 M -0.88 0.25 L -0.9 -0.08 M -0.88 0.25 L -0.58 0.14",
                  "M 0.95 -0.4 C 0.9 0.6 -0.6 0.7 -0.88 -0.1 M -0.88 -0.1 L -0.58 -0.04 M -0.88 -0.1 L -0.92 0.22",
                  "M -0.52 -0.64 L 0.52 -0.64 C 0.85 -0.52 1.02 -0.26 1 0 C 1.02 0.26 0.85 0.52 0.52 0.64 L -0.52 0.64 C -0.85 0.52 -1.02 0.26 -1 0 C -1.02 -0.26 -0.85 -0.52 -0.52 -0.64 Z",
                  "circle"]}, "legend": null},
                "size": {"field": "kind", "type": "nominal", "scale": {"type": "ordinal", "domain": ["arrowtop", "arrowbottom", "tunnel", "circle"], "range": [6233, 6233, 26494, 6545]}, "legend": null}
              }
            },
            {
              "data": {"name": "annoC"},
              "transform": [{"filter": "datum.kind === 'note'"}],
              "mark": {"type": "text", "fontSize": 34, "align": "center", "baseline": "middle"},
              "encoding": {"text": {"field": "label"}}
            },
            {
              "data": {"name": "annoC"},
              "transform": [{"filter": "datum.kind === 'small'"}],
              "mark": {"type": "text", "fontSize": 30, "align": "center", "baseline": "middle"},
              "encoding": {"text": {"field": "label"}}
            },
            {
              "data": {"name": "annoC"},
              "transform": [{"filter": "datum.kind === 'spring'"}],
              "mark": {"type": "text", "fontSize": 44, "align": "left", "baseline": "middle"},
              "encoding": {"text": {"field": "label"}}
            }
          ]
        }
      ]
    }
  ]
}
